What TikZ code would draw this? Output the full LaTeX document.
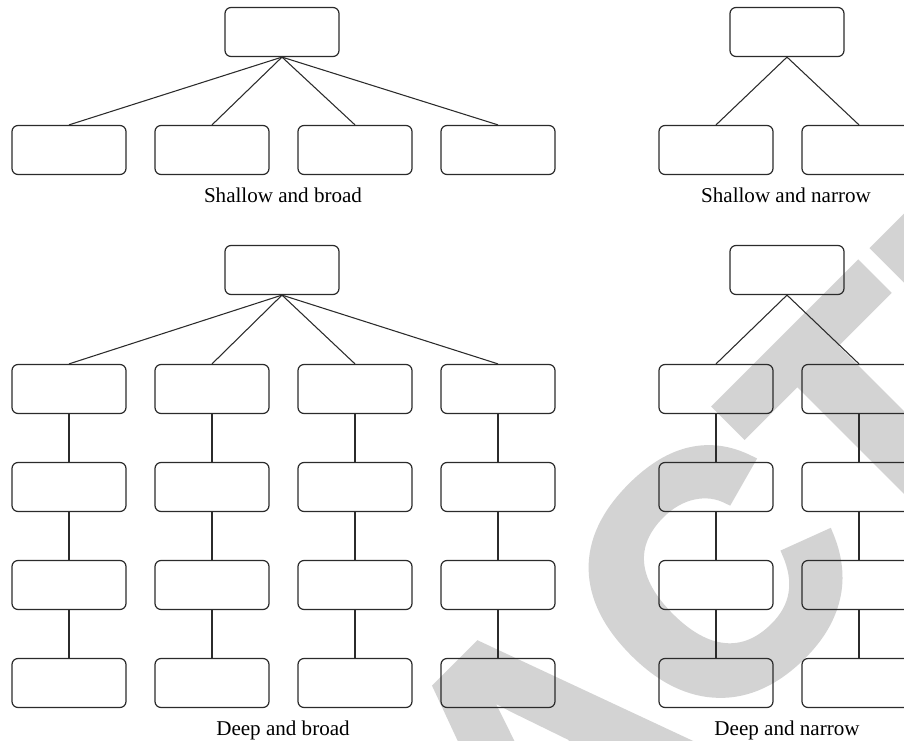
\documentclass[tikz,border=0pt]{standalone}
\usepackage{fontspec}
\setmainfont{Liberation Serif}
\newfontfamily\stampfont{Liberation Sans}[UprightFont={* Bold},UprightFeatures={FakeBold=3}]
\definecolor{stampgray}{RGB}{211,211,211}
\definecolor{ink}{HTML}{2B2B2B}
\usetikzlibrary{positioning}

\begin{document}
\begin{tikzpicture}[x=0.75pt,y=-0.75pt,
  box/.style={draw=ink,line width=0.9pt,rounded corners=4.5pt,minimum width=85.5pt,minimum height=36.75pt,inner sep=0pt},
  link/.style={draw=ink,line width=0.8pt},
  caption/.style={anchor=base,inner sep=0pt,font=\fontsize{15.8}{19}\selectfont}]
\clip (0,0) rectangle (904,741);
% stamp behind the trees
\node[rotate=45,inner sep=0pt,text=stampgray,font=\stampfont\fontsize{252}{252}\selectfont] (stamp) at (540,748) {RETRACTED};

% shallow and broad
\node[box] (sbroot) at (282,32) {};
\foreach \i/\x in {1/69,2/212,3/355,4/498} {
  \node[box] (sb\i) at (\x,150) {};
  \draw[link] (sbroot.south) -- (sb\i.north);
}
\node[caption] (sblab) at (283,203) {Shallow and broad};

% shallow and narrow
\node[box] (snroot) at (787,32) {};
\foreach \i/\x in {1/716,2/859} {
  \node[box] (sn\i) at (\x,150) {};
  \draw[link] (snroot.south) -- (sn\i.north);
}
\node[caption] (snlab) at (786,203) {Shallow and narrow};

% deep and broad
\node[box] (dbroot) at (282,270) {};
\foreach \i/\x in {1/69,2/212,3/355,4/498} {
  \foreach \j/\y in {1/389,2/487,3/585,4/683}
    \node[box] (db\i\j) at (\x,\y) {};
  \draw[link] (dbroot.south) -- (db\i1.north);
  \foreach \j [count=\k from 2] in {1,2,3}
    \draw[link] (db\i\j.south) -- (db\i\k.north);
}
\node[caption] (dblab) at (283,735) {Deep and broad};

% deep and narrow
\node[box] (dnroot) at (787,270) {};
\foreach \i/\x in {1/716,2/859} {
  \foreach \j/\y in {1/389,2/487,3/585,4/683}
    \node[box] (dn\i\j) at (\x,\y) {};
  \draw[link] (dnroot.south) -- (dn\i1.north);
  \foreach \j [count=\k from 2] in {1,2,3}
    \draw[link] (dn\i\j.south) -- (dn\i\k.north);
}
\node[caption] (dnlab) at (787,735) {Deep and narrow};
\end{tikzpicture}
\end{document}
